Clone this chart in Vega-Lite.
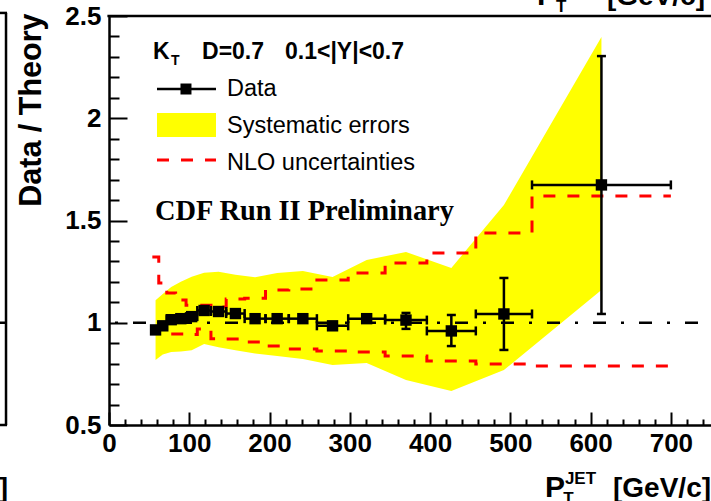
{
  "$schema": "https://vega.github.io/schema/vega-lite/v6.json",
  "width": 602,
  "height": 409,
  "autosize": {"type": "none"},
  "padding": {"left": 109, "top": 16, "right": 0, "bottom": 76},
  "background": "white",
  "config": {"view": {"stroke": null}},
  "resolve": {"axis": {"x": "independent", "y": "independent"}},
  "datasets": {
    "points": [
      {"x": 58, "xlo": 54, "xhi": 62, "y": 0.965, "ylo": 0.955, "yhi": 0.975},
      {"x": 67, "xlo": 62, "xhi": 72, "y": 0.985, "ylo": 0.975, "yhi": 0.995},
      {"x": 77.5, "xlo": 72, "xhi": 83, "y": 1.015, "ylo": 1.005, "yhi": 1.025},
      {"x": 89.5, "xlo": 83, "xhi": 96, "y": 1.02, "ylo": 1.01, "yhi": 1.03},
      {"x": 103, "xlo": 96, "xhi": 110, "y": 1.03, "ylo": 1.02, "yhi": 1.04},
      {"x": 118.5, "xlo": 110, "xhi": 127, "y": 1.06, "ylo": 1.05, "yhi": 1.07},
      {"x": 136.5, "xlo": 127, "xhi": 146, "y": 1.055, "ylo": 1.045, "yhi": 1.065},
      {"x": 157.5, "xlo": 146, "xhi": 169, "y": 1.045, "ylo": 1.035, "yhi": 1.055},
      {"x": 182, "xlo": 169, "xhi": 195, "y": 1.02, "ylo": 1.01, "yhi": 1.03},
      {"x": 209.5, "xlo": 195, "xhi": 224, "y": 1.02, "ylo": 1.01, "yhi": 1.03},
      {"x": 241.5, "xlo": 224, "xhi": 259, "y": 1.02, "ylo": 1.005, "yhi": 1.035},
      {"x": 278.5, "xlo": 259, "xhi": 298, "y": 0.985, "ylo": 0.97, "yhi": 1.0},
      {"x": 321, "xlo": 298, "xhi": 344, "y": 1.02, "ylo": 1.0, "yhi": 1.04},
      {"x": 370, "xlo": 344, "xhi": 396, "y": 1.013, "ylo": 0.97, "yhi": 1.048},
      {"x": 426.5, "xlo": 396, "xhi": 457, "y": 0.96, "ylo": 0.886, "yhi": 1.038},
      {"x": 492, "xlo": 457, "xhi": 527, "y": 1.043, "ylo": 0.867, "yhi": 1.219},
      {"x": 613.5, "xlo": 527, "xhi": 700, "y": 1.674, "ylo": 1.043, "yhi": 2.304}
    ],
    "band": [
      {"x": 58, "lo": 0.818, "hi": 1.11},
      {"x": 67, "lo": 0.845, "hi": 1.14},
      {"x": 77.5, "lo": 0.857, "hi": 1.175},
      {"x": 89.5, "lo": 0.86, "hi": 1.2},
      {"x": 103, "lo": 0.865, "hi": 1.225},
      {"x": 118.5, "lo": 0.896, "hi": 1.245},
      {"x": 136.5, "lo": 0.88, "hi": 1.25},
      {"x": 157.5, "lo": 0.865, "hi": 1.235},
      {"x": 182, "lo": 0.85, "hi": 1.222},
      {"x": 209.5, "lo": 0.837, "hi": 1.243},
      {"x": 241.5, "lo": 0.823, "hi": 1.253},
      {"x": 278.5, "lo": 0.793, "hi": 1.224},
      {"x": 321, "lo": 0.803, "hi": 1.307},
      {"x": 370, "lo": 0.72, "hi": 1.346},
      {"x": 426.5, "lo": 0.666, "hi": 1.268},
      {"x": 492, "lo": 0.769, "hi": 1.576},
      {"x": 613.5, "lo": 1.16, "hi": 2.397}
    ],
    "nlo": [
      {"x": 54, "up": 1.321, "dn": 0.97},
      {"x": 62, "up": 1.194, "dn": 0.95},
      {"x": 72, "up": 1.145, "dn": 0.945},
      {"x": 83, "up": 1.111, "dn": 0.945},
      {"x": 96, "up": 1.086, "dn": 0.942},
      {"x": 110, "up": 1.086, "dn": 0.97},
      {"x": 127, "up": 1.077, "dn": 0.922},
      {"x": 146, "up": 1.116, "dn": 0.92},
      {"x": 169, "up": 1.12, "dn": 0.906},
      {"x": 195, "up": 1.16, "dn": 0.886},
      {"x": 224, "up": 1.165, "dn": 0.872},
      {"x": 259, "up": 1.209, "dn": 0.862},
      {"x": 298, "up": 1.243, "dn": 0.857},
      {"x": 344, "up": 1.292, "dn": 0.837},
      {"x": 396, "up": 1.341, "dn": 0.813},
      {"x": 457, "up": 1.439, "dn": 0.798},
      {"x": 527, "up": 1.62, "dn": 0.789},
      {"x": 700, "up": 1.62, "dn": 0.789}
    ]
  },
  "layer": [
    {
      "data": {"name": "band"},
      "mark": {"type": "area", "color": "#ffff00", "opacity": 1},
      "encoding": {
        "x": {"field": "x", "type": "quantitative", "scale": {"domain": [0, 750], "nice": false, "zero": false},
          "axis": {
            "orient": "bottom",
            "values": [0, 100, 200, 300, 400, 500, 600, 700],
            "format": "d",
            "tickSize": -13,
            "labelPadding": 18,
            "labelFont": "Liberation Sans", "labelFontWeight": "bold", "labelFontSize": 26, "labelColor": "black",
            "labelOverlap": false, "labelFlush": false, "labelBound": false,
            "domainColor": "black", "domainWidth": 2.5, "tickColor": "black", "tickWidth": 2,
            "grid": false, "title": null
          }
        },
        "y": {"field": "hi", "type": "quantitative", "scale": {"domain": [0.5, 2.5], "nice": false, "zero": false},
          "axis": {
            "orient": "left",
            "values": [0.5, 1, 1.5, 2, 2.5],
            "format": ".1~f",
            "tickSize": -18,
            "labelPadding": 26,
            "labelFont": "Liberation Sans", "labelFontWeight": "bold", "labelFontSize": 26, "labelColor": "black",
            "labelOverlap": false, "labelFlush": false, "labelBound": false,
            "domainColor": "black", "domainWidth": 2.5, "tickColor": "black", "tickWidth": 2,
            "grid": false,
            "title": "Data / Theory",
            "titleFont": "Liberation Sans", "titleFontWeight": "bold", "titleFontSize": 30.5, "titleColor": "black",
            "titleAnchor": "end", "titleAngle": 270, "titleAlign": "right", "titleBaseline": "alphabetic",
            "titleX": -69, "titleY": -3
          }
        },
        "y2": {"field": "lo"}
      }
    },
    {
      "data": {"name": "nlo"},
      "mark": {"type": "line", "interpolate": "step-after", "color": "#ff0000", "strokeWidth": 3, "strokeDash": [12, 12]},
      "encoding": {
        "x": {"field": "x", "type": "quantitative", "scale": {"domain": [0, 750], "nice": false, "zero": false},
          "axis": {
            "orient": "bottom",
            "values": [20,40,60,80,120,140,160,180,220,240,260,280,320,340,360,380,420,440,460,480,520,540,560,580,620,640,660,680,720,740],
            "tickSize": -6, "labels": false, "domain": false, "grid": false, "title": null,
            "tickColor": "black", "tickWidth": 2
          }
        },
        "y": {"field": "up", "type": "quantitative", "scale": {"domain": [0.5, 2.5], "nice": false, "zero": false},
          "axis": {
            "orient": "left",
            "values": [0.6,0.7,0.8,0.9,1.1,1.2,1.3,1.4,1.6,1.7,1.8,1.9,2.1,2.2,2.3,2.4],
            "tickSize": -10, "labels": false, "domain": false, "grid": false, "title": null,
            "tickColor": "black", "tickWidth": 2
          }
        }
      }
    },
    {
      "data": {"name": "nlo"},
      "mark": {"type": "line", "interpolate": "step-after", "color": "#ff0000", "strokeWidth": 3, "strokeDash": [12, 12]},
      "encoding": {
        "x": {"field": "x", "type": "quantitative", "scale": {"domain": [0, 750], "nice": false, "zero": false}, "axis": null},
        "y": {"field": "dn", "type": "quantitative", "scale": {"domain": [0.5, 2.5], "nice": false, "zero": false}, "axis": null}
      }
    },
    {
      "data": {"values": [{}]},
      "mark": {"type": "rule", "color": "black", "strokeWidth": 2.5, "strokeDash": [13, 15, 3, 15], "strokeDashOffset": 22},
      "encoding": {
        "x": {"datum": 0, "type": "quantitative", "scale": {"domain": [0, 750], "nice": false, "zero": false}, "axis": null},
        "x2": {"datum": 750},
        "y": {"datum": 1, "type": "quantitative", "scale": {"domain": [0.5, 2.5], "nice": false, "zero": false}, "axis": null}
      }
    },
    {
      "data": {"name": "points"},
      "mark": {"type": "rule", "color": "black", "strokeWidth": 2.5},
      "encoding": {
        "x": {"field": "xlo", "type": "quantitative", "scale": {"domain": [0, 750], "nice": false, "zero": false}, "axis": null},
        "x2": {"field": "xhi"},
        "y": {"field": "y", "type": "quantitative", "scale": {"domain": [0.5, 2.5], "nice": false, "zero": false}, "axis": null}
      }
    },
    {
      "data": {"name": "points"},
      "mark": {"type": "rule", "color": "black", "strokeWidth": 2.5},
      "encoding": {
        "x": {"field": "x", "type": "quantitative", "scale": {"domain": [0, 750], "nice": false, "zero": false}, "axis": null},
        "y": {"field": "ylo", "type": "quantitative", "scale": {"domain": [0.5, 2.5], "nice": false, "zero": false}, "axis": null},
        "y2": {"field": "yhi"}
      }
    },
    {
      "data": {"name": "points"},
      "mark": {"type": "tick", "orient": "vertical", "size": 9, "thickness": 2.5, "color": "black", "opacity": 1},
      "encoding": {
        "x": {"field": "xlo", "type": "quantitative", "scale": {"domain": [0, 750], "nice": false, "zero": false}, "axis": null},
        "y": {"field": "y", "type": "quantitative", "scale": {"domain": [0.5, 2.5], "nice": false, "zero": false}, "axis": null}
      }
    },
    {
      "data": {"name": "points"},
      "mark": {"type": "tick", "orient": "vertical", "size": 9, "thickness": 2.5, "color": "black", "opacity": 1},
      "encoding": {
        "x": {"field": "xhi", "type": "quantitative", "scale": {"domain": [0, 750], "nice": false, "zero": false}, "axis": null},
        "y": {"field": "y", "type": "quantitative", "scale": {"domain": [0.5, 2.5], "nice": false, "zero": false}, "axis": null}
      }
    },
    {
      "data": {"name": "points"},
      "mark": {"type": "tick", "orient": "horizontal", "size": 9, "thickness": 2.5, "color": "black", "opacity": 1},
      "encoding": {
        "x": {"field": "x", "type": "quantitative", "scale": {"domain": [0, 750], "nice": false, "zero": false}, "axis": null},
        "y": {"field": "ylo", "type": "quantitative", "scale": {"domain": [0.5, 2.5], "nice": false, "zero": false}, "axis": null}
      }
    },
    {
      "data": {"name": "points"},
      "mark": {"type": "tick", "orient": "horizontal", "size": 9, "thickness": 2.5, "color": "black", "opacity": 1},
      "encoding": {
        "x": {"field": "x", "type": "quantitative", "scale": {"domain": [0, 750], "nice": false, "zero": false}, "axis": null},
        "y": {"field": "yhi", "type": "quantitative", "scale": {"domain": [0.5, 2.5], "nice": false, "zero": false}, "axis": null}
      }
    },
    {
      "data": {"name": "points"},
      "mark": {"type": "point", "shape": "square", "filled": true, "size": 130, "color": "black", "opacity": 1},
      "encoding": {
        "x": {"field": "x", "type": "quantitative", "scale": {"domain": [0, 750], "nice": false, "zero": false}, "axis": null},
        "y": {"field": "y", "type": "quantitative", "scale": {"domain": [0.5, 2.5], "nice": false, "zero": false}, "axis": null}
      }
    },
    {
      "data": {"values": [{}]},
      "mark": {"type": "rule", "color": "black", "strokeWidth": 2.5, "clip": false},
      "encoding": {
        "x": {"datum": -2, "type": "quantitative", "scale": {"domain": [0, 750], "nice": false, "zero": false}, "axis": null},
        "x2": {"datum": 752},
        "y": {"datum": 2.5, "type": "quantitative", "scale": {"domain": [0.5, 2.5], "nice": false, "zero": false}, "axis": null}
      }
    },
    {
      "data": {"values": [{}]},
      "mark": {"type": "rect", "color": "#ffff00", "opacity": 1},
      "encoding": {
        "x": {"datum": 59.8, "type": "quantitative", "scale": {"domain": [0, 750], "nice": false, "zero": false}, "axis": null},
        "x2": {"datum": 133.3},
        "y": {"datum": 2.026, "type": "quantitative", "scale": {"domain": [0.5, 2.5], "nice": false, "zero": false}, "axis": null},
        "y2": {"datum": 1.908}
      }
    },
    {
      "data": {"values": [{}]},
      "mark": {"type": "rule", "color": "black", "strokeWidth": 2.5},
      "encoding": {
        "x": {"datum": 59.8, "type": "quantitative", "scale": {"domain": [0, 750], "nice": false, "zero": false}, "axis": null},
        "x2": {"datum": 133.3},
        "y": {"datum": 2.143, "type": "quantitative", "scale": {"domain": [0.5, 2.5], "nice": false, "zero": false}, "axis": null}
      }
    },
    {
      "data": {"values": [{}]},
      "mark": {"type": "point", "shape": "square", "filled": true, "size": 121, "color": "black", "opacity": 1},
      "encoding": {
        "x": {"datum": 95.9, "type": "quantitative", "scale": {"domain": [0, 750], "nice": false, "zero": false}, "axis": null},
        "y": {"datum": 2.143, "type": "quantitative", "scale": {"domain": [0.5, 2.5], "nice": false, "zero": false}, "axis": null}
      }
    },
    {
      "data": {"values": [{}]},
      "mark": {"type": "rule", "color": "#ff0000", "strokeWidth": 3, "strokeDash": [12, 12]},
      "encoding": {
        "x": {"datum": 59.8, "type": "quantitative", "scale": {"domain": [0, 750], "nice": false, "zero": false}, "axis": null},
        "x2": {"datum": 133.3},
        "y": {"datum": 1.796, "type": "quantitative", "scale": {"domain": [0.5, 2.5], "nice": false, "zero": false}, "axis": null}
      }
    },
    {
      "data": {"values": [{}]},
      "mark": {"type": "text", "align": "left", "baseline": "alphabetic", "font": "Liberation Sans", "fontWeight": "bold", "fontSize": 23, "color": "black", "text": "K"},
      "encoding": {
        "x": {"datum": 54.8, "type": "quantitative", "scale": {"domain": [0, 750], "nice": false, "zero": false}, "axis": null},
        "y": {"datum": 2.29, "type": "quantitative", "scale": {"domain": [0.5, 2.5], "nice": false, "zero": false}, "axis": null}
      }
    },
    {
      "data": {"values": [{}]},
      "mark": {"type": "text", "align": "left", "baseline": "alphabetic", "font": "Liberation Sans", "fontWeight": "bold", "fontSize": 14, "color": "black", "text": "T"},
      "encoding": {
        "x": {"datum": 77.2, "type": "quantitative", "scale": {"domain": [0, 750], "nice": false, "zero": false}, "axis": null},
        "y": {"datum": 2.26, "type": "quantitative", "scale": {"domain": [0.5, 2.5], "nice": false, "zero": false}, "axis": null}
      }
    },
    {
      "data": {"values": [{}]},
      "mark": {"type": "text", "align": "left", "baseline": "alphabetic", "font": "Liberation Sans", "fontWeight": "bold", "fontSize": 23, "color": "black", "text": "D=0.7"},
      "encoding": {
        "x": {"datum": 115.9, "type": "quantitative", "scale": {"domain": [0, 750], "nice": false, "zero": false}, "axis": null},
        "y": {"datum": 2.29, "type": "quantitative", "scale": {"domain": [0.5, 2.5], "nice": false, "zero": false}, "axis": null}
      }
    },
    {
      "data": {"values": [{}]},
      "mark": {"type": "text", "align": "left", "baseline": "alphabetic", "font": "Liberation Sans", "fontWeight": "bold", "fontSize": 23, "color": "black", "text": "0.1<|Y|<0.7"},
      "encoding": {
        "x": {"datum": 219.3, "type": "quantitative", "scale": {"domain": [0, 750], "nice": false, "zero": false}, "axis": null},
        "y": {"datum": 2.29, "type": "quantitative", "scale": {"domain": [0.5, 2.5], "nice": false, "zero": false}, "axis": null}
      }
    },
    {
      "data": {"values": [{}]},
      "mark": {"type": "text", "align": "left", "baseline": "alphabetic", "font": "Liberation Sans", "fontSize": 23.5, "color": "black", "text": "Data"},
      "encoding": {
        "x": {"datum": 147, "type": "quantitative", "scale": {"domain": [0, 750], "nice": false, "zero": false}, "axis": null},
        "y": {"datum": 2.109, "type": "quantitative", "scale": {"domain": [0.5, 2.5], "nice": false, "zero": false}, "axis": null}
      }
    },
    {
      "data": {"values": [{}]},
      "mark": {"type": "text", "align": "left", "baseline": "alphabetic", "font": "Liberation Sans", "fontSize": 23.5, "color": "black", "text": "Systematic errors"},
      "encoding": {
        "x": {"datum": 147, "type": "quantitative", "scale": {"domain": [0, 750], "nice": false, "zero": false}, "axis": null},
        "y": {"datum": 1.928, "type": "quantitative", "scale": {"domain": [0.5, 2.5], "nice": false, "zero": false}, "axis": null}
      }
    },
    {
      "data": {"values": [{}]},
      "mark": {"type": "text", "align": "left", "baseline": "alphabetic", "font": "Liberation Sans", "fontSize": 23.5, "color": "black", "text": "NLO uncertainties"},
      "encoding": {
        "x": {"datum": 147, "type": "quantitative", "scale": {"domain": [0, 750], "nice": false, "zero": false}, "axis": null},
        "y": {"datum": 1.747, "type": "quantitative", "scale": {"domain": [0.5, 2.5], "nice": false, "zero": false}, "axis": null}
      }
    },
    {
      "data": {"values": [{}]},
      "mark": {"type": "text", "align": "left", "baseline": "alphabetic", "font": "Liberation Serif", "fontWeight": "bold", "fontSize": 28.4, "color": "black", "text": "CDF Run II Preliminary"},
      "encoding": {
        "x": {"datum": 57.3, "type": "quantitative", "scale": {"domain": [0, 750], "nice": false, "zero": false}, "axis": null},
        "y": {"datum": 1.502, "type": "quantitative", "scale": {"domain": [0.5, 2.5], "nice": false, "zero": false}, "axis": null}
      }
    },
    {
      "data": {"values": [{}]},
      "mark": {"type": "text", "align": "left", "baseline": "alphabetic", "font": "Liberation Sans", "fontWeight": "bold", "fontSize": 30, "color": "black", "text": "P", "clip": false},
      "encoding": {
        "x": {"datum": 543.2, "type": "quantitative", "scale": {"domain": [0, 750], "nice": false, "zero": false}, "axis": null},
        "y": {"datum": 0.148, "type": "quantitative", "scale": {"domain": [0.5, 2.5], "nice": false, "zero": false}, "axis": null}
      }
    },
    {
      "data": {"values": [{}]},
      "mark": {"type": "text", "align": "left", "baseline": "alphabetic", "font": "Liberation Sans", "fontWeight": "bold", "fontSize": 17, "color": "black", "text": "JET", "clip": false},
      "encoding": {
        "x": {"datum": 568, "type": "quantitative", "scale": {"domain": [0, 750], "nice": false, "zero": false}, "axis": null},
        "y": {"datum": 0.212, "type": "quantitative", "scale": {"domain": [0.5, 2.5], "nice": false, "zero": false}, "axis": null}
      }
    },
    {
      "data": {"values": [{}]},
      "mark": {"type": "text", "align": "left", "baseline": "alphabetic", "font": "Liberation Sans", "fontWeight": "bold", "fontSize": 17, "color": "black", "text": "T", "clip": false},
      "encoding": {
        "x": {"datum": 566, "type": "quantitative", "scale": {"domain": [0, 750], "nice": false, "zero": false}, "axis": null},
        "y": {"datum": 0.114, "type": "quantitative", "scale": {"domain": [0.5, 2.5], "nice": false, "zero": false}, "axis": null}
      }
    },
    {
      "data": {"values": [{}]},
      "mark": {"type": "text", "align": "left", "baseline": "alphabetic", "font": "Liberation Sans", "fontWeight": "bold", "fontSize": 28, "color": "black", "text": "[GeV/c]", "clip": false},
      "encoding": {
        "x": {"datum": 627.9, "type": "quantitative", "scale": {"domain": [0, 750], "nice": false, "zero": false}, "axis": null},
        "y": {"datum": 0.148, "type": "quantitative", "scale": {"domain": [0.5, 2.5], "nice": false, "zero": false}, "axis": null}
      }
    },
    {
      "data": {"values": [{}]},
      "mark": {"type": "text", "align": "left", "baseline": "alphabetic", "font": "Liberation Sans", "fontWeight": "bold", "fontSize": 30, "color": "black", "text": "P", "clip": false},
      "encoding": {
        "x": {"datum": 533.2, "type": "quantitative", "scale": {"domain": [0, 750], "nice": false, "zero": false}, "axis": null},
        "y": {"datum": 2.5538, "type": "quantitative", "scale": {"domain": [0.5, 2.5], "nice": false, "zero": false}, "axis": null}
      }
    },
    {
      "data": {"values": [{}]},
      "mark": {"type": "text", "align": "left", "baseline": "alphabetic", "font": "Liberation Sans", "fontWeight": "bold", "fontSize": 17, "color": "black", "text": "T", "clip": false},
      "encoding": {
        "x": {"datum": 556.9, "type": "quantitative", "scale": {"domain": [0, 750], "nice": false, "zero": false}, "axis": null},
        "y": {"datum": 2.5196, "type": "quantitative", "scale": {"domain": [0.5, 2.5], "nice": false, "zero": false}, "axis": null}
      }
    },
    {
      "data": {"values": [{}]},
      "mark": {"type": "text", "align": "left", "baseline": "alphabetic", "font": "Liberation Sans", "fontWeight": "bold", "fontSize": 28, "color": "black", "text": "[GeV/c]", "clip": false},
      "encoding": {
        "x": {"datum": 620.4, "type": "quantitative", "scale": {"domain": [0, 750], "nice": false, "zero": false}, "axis": null},
        "y": {"datum": 2.5538, "type": "quantitative", "scale": {"domain": [0.5, 2.5], "nice": false, "zero": false}, "axis": null}
      }
    },
    {
      "data": {"values": [{}]},
      "mark": {"type": "rule", "color": "black", "strokeWidth": 2.5, "clip": false},
      "encoding": {
        "x": {"datum": -128.3, "type": "quantitative", "scale": {"domain": [0, 750], "nice": false, "zero": false}, "axis": null},
        "y": {"datum": 0.5, "type": "quantitative", "scale": {"domain": [0.5, 2.5], "nice": false, "zero": false}, "axis": null},
        "y2": {"datum": 2.515}
      }
    },
    {
      "data": {"values": [{}]},
      "mark": {"type": "rule", "color": "black", "strokeWidth": 2.5, "clip": false},
      "encoding": {
        "x": {"datum": -140, "type": "quantitative", "scale": {"domain": [0, 750], "nice": false, "zero": false}, "axis": null},
        "x2": {"datum": -128.3},
        "y": {"datum": 1, "type": "quantitative", "scale": {"domain": [0.5, 2.5], "nice": false, "zero": false}, "axis": null}
      }
    },
    {
      "data": {"values": [{}]},
      "mark": {"type": "rule", "color": "black", "strokeWidth": 2.5, "clip": false},
      "encoding": {
        "x": {"datum": -140, "type": "quantitative", "scale": {"domain": [0, 750], "nice": false, "zero": false}, "axis": null},
        "x2": {"datum": -127},
        "y": {"datum": 0.5, "type": "quantitative", "scale": {"domain": [0.5, 2.5], "nice": false, "zero": false}, "axis": null}
      }
    },
    {
      "data": {"values": [{}]},
      "mark": {"type": "rule", "color": "black", "strokeWidth": 2.5, "clip": false},
      "encoding": {
        "x": {"datum": -140, "type": "quantitative", "scale": {"domain": [0, 750], "nice": false, "zero": false}, "axis": null},
        "x2": {"datum": -127},
        "y": {"datum": 2.515, "type": "quantitative", "scale": {"domain": [0.5, 2.5], "nice": false, "zero": false}, "axis": null}
      }
    },
    {
      "data": {"values": [{}]},
      "mark": {"type": "text", "align": "right", "baseline": "alphabetic", "font": "Liberation Sans", "fontWeight": "bold", "fontSize": 28, "color": "black", "text": "]", "clip": false},
      "encoding": {
        "x": {"datum": -125.8, "type": "quantitative", "scale": {"domain": [0, 750], "nice": false, "zero": false}, "axis": null},
        "y": {"datum": 0.148, "type": "quantitative", "scale": {"domain": [0.5, 2.5], "nice": false, "zero": false}, "axis": null}
      }
    }
  ]
}
